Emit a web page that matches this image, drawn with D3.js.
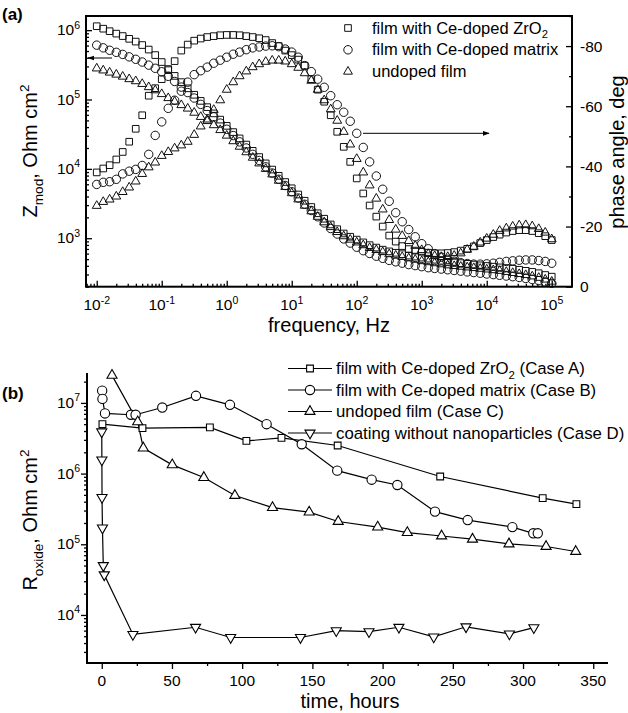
<!DOCTYPE html>
<html><head><meta charset="utf-8">
<script src="https://cdn.jsdelivr.net/npm/d3@7"></script>
<style>
body{margin:0;background:#fff}
svg text{font-family:"Liberation Sans",Arial,Helvetica,sans-serif;fill:#000}
</style></head><body>
<svg id="c" width="628" height="713" xmlns="http://www.w3.org/2000/svg"></svg>
<script>
// ---------- panel (a) data ----------
const frequency = [0.01,0.0126,0.0158,0.02,0.0251,0.0316,0.0398,0.0501,0.0631,0.0794,
 0.1,0.126,0.158,0.2,0.251,0.316,0.398,0.501,0.631,0.794,
 1,1.26,1.58,2,2.51,3.16,3.98,5.01,6.31,7.94,
 10,12.6,15.8,20,25.1,31.6,39.8,50.1,63.1,79.4,
 100,126,158,200,251,316,398,501,631,794,
 1000,1260,1580,2000,2510,3160,3980,5010,6310,7940,
 10000,12600,15800,20000,25100,31600,39800,50100,63100,79400,100000];
const zModA = [1.14e6,1.05e6,9.66e5,8.91e5,8.22e5,7.50e5,6.84e5,6.10e5,5.25e5,4.37e5,
 3.47e5,2.75e5,2.19e5,1.78e5,1.45e5,1.17e5,9.55e4,7.76e4,6.31e4,5.13e4,
 4.17e4,3.39e4,2.75e4,2.24e4,1.82e4,1.48e4,1.20e4,9.77e3,7.94e3,6.46e3,
 5.25e3,4.27e3,3.47e3,2.82e3,2.29e3,1.91e3,1.58e3,1.35e3,1.17e3,1.05e3,
 955,871,794,733,684,646,617,589,562,543,
 525,507,490,473,457,447,437,427,417,407,
 398,389,380,372,363,351,339,327,313,295,279];
const zModB = [6.08e5,5.56e5,5.13e5,4.79e5,4.47e5,4.12e5,3.80e5,3.47e5,3.13e5,2.82e5,
 2.51e5,2.16e5,1.82e5,1.51e5,1.26e5,1.05e5,8.51e4,6.92e4,5.62e4,4.57e4,
 3.72e4,3.02e4,2.45e4,2.00e4,1.62e4,1.32e4,1.07e4,8.71e3,7.08e3,5.75e3,
 4.68e3,3.80e3,3.09e3,2.51e3,2.04e3,1.66e3,1.38e3,1.15e3,977,851,
 741,661,603,550,513,479,457,437,417,403,
 389,376,367,359,351,343,335,327,320,313,
 305,299,292,285,279,272,263,254,245,234,224];
const zModC = [2.81e5,2.63e5,2.45e5,2.29e5,2.14e5,1.97e5,1.84e5,1.68e5,1.51e5,1.36e5,
 1.20e5,1.05e5,9.33e4,8.32e4,7.41e4,6.46e4,5.62e4,4.90e4,4.27e4,3.63e4,
 3.02e4,2.51e4,2.09e4,1.74e4,1.45e4,1.20e4,1.00e4,8.32e3,6.76e3,5.50e3,
 4.47e3,3.63e3,2.95e3,2.45e3,2.04e3,1.70e3,1.45e3,1.23e3,1.07e3,955,
 871,794,724,676,631,589,562,537,513,490,
 468,452,437,422,407,398,389,380,372,363,
 355,347,339,327,316,305,295,282,269,254,237];
const phaseA = [-38,-39.3,-40.4,-42.3,-44.8,-48.2,-52.5,-57,-63.5,-66,
 -69,-72,-75,-78.5,-80.5,-81.8,-82.5,-83,-83.3,-83.6,
 -83.7,-83.7,-83.6,-83.3,-83,-82.6,-82,-81,-80,-78.5,
 -77,-75.5,-73.5,-69,-65.5,-61.5,-57,-51.5,-46.5,-41.5,
 -36,-31,-27,-23.3,-20,-17,-15,-13.5,-12.5,-12,
 -11.6,-11.3,-11.1,-11.1,-11.2,-11.5,-12,-12.6,-13.4,-14.5,
 -15.5,-16.5,-17.3,-18,-18.5,-18.8,-18.8,-18.5,-17.8,-16.8,-15.5];
const phaseB = [-34,-34.7,-34.9,-35.7,-37.5,-38.4,-39,-40.3,-44,-50.3,
 -54.8,-59.3,-62,-65,-68,-70.5,-71.8,-73,-74.3,-75.3,
 -76.3,-77.3,-78,-78.8,-79.4,-79.7,-80,-80.1,-79.8,-79,
 -78,-76.3,-73.5,-71.5,-69,-66.3,-63.5,-60.5,-58,-55,
 -51,-46.3,-41.5,-36.8,-32.4,-28.4,-24.6,-21.6,-19,-16.6,
 -14.3,-12.6,-11,-9.8,-9.1,-8.5,-8,-7.7,-7.5,-7.5,
 -7.6,-7.8,-8.1,-8.4,-8.6,-8.8,-8.9,-8.9,-8.7,-8.4,-7.8];
const phaseC = [-26.9,-28.2,-29,-30,-31.5,-33,-35,-37.5,-39.7,-41.3,
 -43.5,-44.8,-46,-47,-48.2,-50.5,-53.3,-55.6,-58.8,-62,
 -65.5,-68,-70,-71.6,-73,-74,-74.8,-75.2,-75.2,-74.9,
 -74,-72.8,-71,-68.5,-65.5,-62,-59,-55.2,-51.5,-47.3,
 -42.5,-38,-33.7,-29.3,-25.7,-22.2,-19,-16.9,-15.2,-13.6,
 -12.2,-10.9,-10.2,-9.9,-9.9,-10.3,-11.1,-12.3,-13.3,-14.7,
 -16,-17.3,-18.6,-19.4,-20,-20.4,-20.5,-20.1,-19.2,-18,-15.8];
const legendLabelsA = ["film with Ce-doped ZrO|2", "film with Ce-doped matrix", "undoped film"];
const freqTicks = [0.01,0.1,1,10,100,1000,10000,100000];
const freqTickExp = ["-2","-1","0","1","2","3","4","5"];
const zTicks = [1e3,1e4,1e5,1e6];
const zTickExp = ["3","4","5","6"];
const phaseTicks = [0,-20,-40,-60,-80];
const phaseMinor = [-10,-30,-50,-70,-90];

// ---------- panel (b) data ----------
const timeA = [0.5,29,77,103,128,168,241,314,338];
const rOxA  = [5.0e6,4.4e6,4.5e6,2.9e6,3.2e6,2.5e6,9.1e5,4.5e5,3.7e5];
const timeB = [0.3,0.5,2.3,20.8,24.1,43.1,67.1,91.3,117.4,142.4,167.7,192.2,210.5,237.3,260.6,292.4,307.3,310.5];
const rOxB  = [1.49e7,1.14e7,7.1e6,6.8e6,6.8e6,8.6e6,1.26e7,9.4e6,5.0e6,2.6e6,1.1e6,8.2e5,6.9e5,2.9e5,2.2e5,1.75e5,1.43e5,1.43e5];
const timeC = [7.3,25.6,29.6,50.2,72.7,94.8,121.6,147.7,168.4,196.5,217.6,242,264,290,316.4,337.5];
const rOxC  = [2.45e7,5.4e6,2.3e6,1.33e6,8.8e5,4.9e5,3.3e5,2.85e5,2.1e5,1.75e5,1.46e5,1.31e5,1.18e5,1.01e5,9.3e4,7.9e4];
const timeD = [0,0.1,0.2,0.5,1.1,1.8,22.2,66.8,91.8,141.5,167,190.3,211.6,236.4,259.4,290.3,307.7];
const rOxD  = [3.9e6,1.56e6,4.6e5,1.7e5,5.0e4,3.7e4,5.3e3,6.7e3,4.8e3,4.8e3,6.0e3,5.8e3,6.7e3,4.9e3,6.8e3,5.4e3,6.6e3];
const legendLabelsB = ["film with Ce-doped ZrO|2| (Case A)", "film with Ce-doped matrix (Case B)", "undoped film (Case C)", "coating without nanoparticles (Case D)"];
const timeTicks = [0,50,100,150,200,250,300,350];
const timeMinor = [25,75,125,175,225,275,325];
const rTicks = [1e4,1e5,1e6,1e7];
const rTickExp = ["4","5","6","7"];

// ---------- helpers ----------
const svg = d3.select("#c");
function rich(g, parts, size){
  const t = g.append("text").attr("font-size", size);
  let shift = 0;
  parts.forEach(p=>{
    const target = p.sup ? -0.42*size : (p.sub ? 0.28*size : 0);
    const sp = t.append("tspan").text(p.t).attr("dy", target - shift);
    if(p.sup||p.sub) sp.attr("font-size", size*0.68);
    shift = target;
  });
  return t;
}
function subParts(s){
  const a = s.split("|"); const out=[];
  a.forEach((x,i)=>{ if(x.length) out.push(i%2 ? {t:x,sub:true} : {t:x}); });
  return out;
}
function minorLog(scale){
  const [a,b] = scale.domain(); const out=[];
  for(let e=Math.floor(Math.log10(a)); e<=Math.ceil(Math.log10(b)); e++){
    for(let m=2;m<=9;m++){ const v=m*Math.pow(10,e); if(v>=a && v<=b) out.push(v); }
  }
  return out;
}
function tickAxis(g, axis){ g.call(axis); g.select(".domain").remove(); g.selectAll("line").attr("stroke","#000").attr("stroke-width",1.3); }
const symSquare = d3.symbol().type(d3.symbolSquare);
const symCircle = d3.symbol().type(d3.symbolCircle);
const symTri = d3.symbol().type(d3.symbolTriangle);

// ================= panel (a) =================
const aL=86, aR=572, aT=16, aB=286.7;
const xA = d3.scaleLog().domain([6.84e-3, 2.05e5]).range([aL,aR]);
const yZ = d3.scaleLog().domain([200, 1.6e6]).range([aB,aT]);
const yP = d3.scaleLinear().domain([0,-90]).range([aB,aT]);
const gA = svg.append("g");

tickAxis(gA.append("g").attr("transform",`translate(0,${aB})`), d3.axisBottom(xA).tickValues(minorLog(xA)).tickSize(-3).tickFormat(""));
tickAxis(gA.append("g").attr("transform",`translate(0,${aB})`), d3.axisBottom(xA).tickValues(freqTicks).tickSize(-6).tickFormat(""));
tickAxis(gA.append("g").attr("transform",`translate(${aL},0)`), d3.axisLeft(yZ).tickValues(minorLog(yZ)).tickSize(-3).tickFormat(""));
tickAxis(gA.append("g").attr("transform",`translate(${aL},0)`), d3.axisLeft(yZ).tickValues(zTicks).tickSize(-6).tickFormat(""));
tickAxis(gA.append("g").attr("transform",`translate(${aR},0)`), d3.axisRight(yP).tickValues(phaseMinor).tickSize(-3).tickFormat(""));
tickAxis(gA.append("g").attr("transform",`translate(${aR},0)`), d3.axisRight(yP).tickValues(phaseTicks).tickSize(-6).tickFormat(""));
gA.append("rect").attr("x",aL).attr("y",aT).attr("width",aR-aL).attr("height",aB-aT)
  .attr("fill","none").attr("stroke","#000").attr("stroke-width",2);

freqTicks.forEach((f,i)=>{
  const g = gA.append("g").attr("transform",`translate(${xA(f)},310)`);
  rich(g,[{t:"10"},{t:freqTickExp[i],sup:true}],15.5).attr("text-anchor","middle");
});
zTicks.forEach((v,i)=>{
  const g = gA.append("g").attr("transform",`translate(80,${yZ(v)+5})`);
  rich(g,[{t:"10"},{t:zTickExp[i],sup:true}],15.5).attr("text-anchor","end");
});
phaseTicks.forEach(p=>{
  gA.append("text").attr("x",580).attr("y",yP(p)+5.5).attr("font-size",15.5).text(String(p));
});

rich(gA.append("g").attr("transform",`translate(329,332)`),[{t:"frequency, Hz"}],20).attr("text-anchor","middle");
rich(gA.append("g").attr("transform",`translate(37,151) rotate(-90)`),[{t:"Z"},{t:"mod",sub:true},{t:", Ohm cm"},{t:"2",sup:true}],20).attr("text-anchor","middle");
rich(gA.append("g").attr("transform",`translate(624,152) rotate(-90)`),[{t:"phase angle, deg"}],20).attr("text-anchor","middle");
gA.append("text").attr("x",2).attr("y",20).attr("font-size",17).attr("font-weight","bold").text("(a)");

const seriesA = [
  {z:zModA, p:phaseA, sym:symSquare.size(44)},
  {z:zModB, p:phaseB, sym:symCircle.size(56)},
  {z:zModC, p:phaseC, sym:symTri.size(34)}
];
const plotA = gA.append("g");
seriesA.forEach(s=>{
  const path = s.sym();
  plotA.selectAll(null).data(frequency.map((f,i)=>[f,s.z[i]])).join("path")
    .attr("d",path).attr("transform",d=>`translate(${xA(d[0])},${yZ(d[1])})`)
    .attr("fill","none").attr("stroke","#111").attr("stroke-width",1);
  plotA.selectAll(null).data(frequency.map((f,i)=>[f,s.p[i]])).join("path")
    .attr("d",path).attr("transform",d=>`translate(${xA(d[0])},${yP(d[1])})`)
    .attr("fill","none").attr("stroke","#111").attr("stroke-width",1);
});

const legSymsA = [symSquare.size(44)(), symCircle.size(56)(), symTri.size(34)()];
legendLabelsA.forEach((lab,i)=>{
  const y = 28 + i*21.8;
  gA.append("path").attr("d",legSymsA[i]).attr("transform",`translate(348,${y})`)
    .attr("fill","none").attr("stroke","#111").attr("stroke-width",1);
  rich(gA.append("g").attr("transform",`translate(372,${y+5.5})`), subParts(lab), 16.5);
});

const defs = svg.append("defs");
defs.append("marker").attr("id","ah").attr("viewBox","0 0 10 10").attr("refX",9).attr("refY",5)
  .attr("markerWidth",7).attr("markerHeight",7).attr("markerUnits","userSpaceOnUse").attr("orient","auto")
  .append("path").attr("d","M0,1.5 L10,5 L0,8.5 Z").attr("fill","#000");
gA.append("line").attr("x1",112).attr("y1",58).attr("x2",88).attr("y2",58)
  .attr("stroke","#000").attr("stroke-width",1).attr("marker-end","url(#ah)");
gA.append("line").attr("x1",363).attr("y1",yP(phaseB[40])).attr("x2",489).attr("y2",yP(phaseB[40]))
  .attr("stroke","#000").attr("stroke-width",1).attr("marker-end","url(#ah)");

// ================= panel (b) =================
const bL=87, bR=608, bT=373, bB=663;
const xB = d3.scaleLinear().domain([-10.5,360.5]).range([bL,bR]);
const yB = d3.scaleLog().domain([2090,2.65e7]).range([bB,bT]);
const gB = svg.append("g");
tickAxis(gB.append("g").attr("transform",`translate(0,${bB})`), d3.axisBottom(xB).tickValues(timeMinor).tickSize(3).tickFormat(""));
tickAxis(gB.append("g").attr("transform",`translate(0,${bB})`), d3.axisBottom(xB).tickValues(timeTicks).tickSize(6).tickFormat(""));
tickAxis(gB.append("g").attr("transform",`translate(${bL},0)`), d3.axisLeft(yB).tickValues(minorLog(yB)).tickSize(3).tickFormat(""));
tickAxis(gB.append("g").attr("transform",`translate(${bL},0)`), d3.axisLeft(yB).tickValues(rTicks).tickSize(6).tickFormat(""));
gB.append("path").attr("d",`M${bL},${bT} V${bB} H${bR}`).attr("fill","none").attr("stroke","#000").attr("stroke-width",2);

timeTicks.forEach(t=>{
  gB.append("text").attr("x",xB(t)).attr("y",686).attr("font-size",15.5).attr("text-anchor","middle").text(String(t));
});
rTicks.forEach((v,i)=>{
  rich(gB.append("g").attr("transform",`translate(80,${yB(v)+5})`),[{t:"10"},{t:rTickExp[i],sup:true}],15.5).attr("text-anchor","end");
});
rich(gB.append("g").attr("transform",`translate(350,708)`),[{t:"time, hours"}],20).attr("text-anchor","middle");
rich(gB.append("g").attr("transform",`translate(37,520) rotate(-90)`),[{t:"R"},{t:"oxide",sub:true},{t:", Ohm cm"},{t:"2",sup:true}],20).attr("text-anchor","middle");
gB.append("text").attr("x",2).attr("y",399).attr("font-size",17).attr("font-weight","bold").text("(b)");

const symsB = [symSquare.size(46)(), symCircle.size(68)(), symTri.size(44)(), symTri.size(44)()];
const rotB = [0,0,0,180];
const seriesB = [[timeA,rOxA],[timeB,rOxB],[timeC,rOxC],[timeD,rOxD]];
const line = d3.line().x(d=>xB(d[0])).y(d=>yB(d[1]));
seriesB.forEach(s=>{
  const pts = s[0].map((t,i)=>[t,s[1][i]]);
  gB.append("path").attr("d",line(pts)).attr("fill","none").attr("stroke","#000").attr("stroke-width",1.2);
});
seriesB.forEach((s,k)=>{
  const pts = s[0].map((t,i)=>[t,s[1][i]]);
  gB.selectAll(null).data(pts).join("path").attr("d",symsB[k])
    .attr("transform",d=>`translate(${xB(d[0])},${yB(d[1])}) rotate(${rotB[k]})`)
    .attr("fill","#fff").attr("stroke","#000").attr("stroke-width",1.1);
});
legendLabelsB.forEach((lab,i)=>{
  const y = 368.5 + i*21.5;
  gB.append("line").attr("x1",288).attr("x2",332).attr("y1",y).attr("y2",y).attr("stroke","#000").attr("stroke-width",1.2);
  gB.append("path").attr("d",symsB[i]).attr("transform",`translate(310,${y}) rotate(${rotB[i]})`)
    .attr("fill","#fff").attr("stroke","#000").attr("stroke-width",1.1);
  rich(gB.append("g").attr("transform",`translate(336,${y+5.5})`), subParts(lab), 16.8);
});
</script>
</body></html>
